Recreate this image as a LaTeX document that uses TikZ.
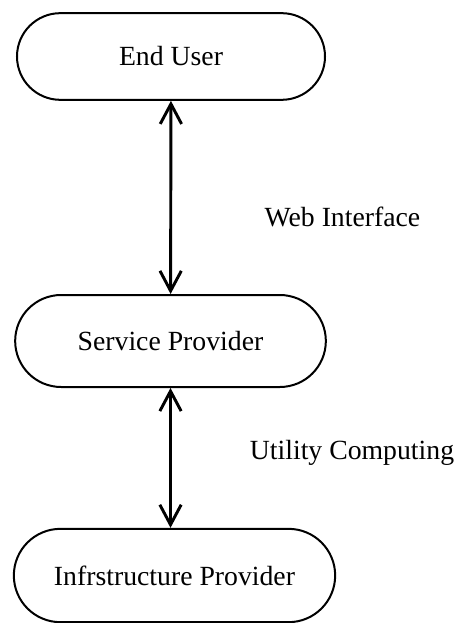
\documentclass[tikz,border=0pt]{standalone}
\usepackage{fontspec}
\setmainfont{Liberation Serif}
\usetikzlibrary{shapes.misc,arrows.meta,positioning}

\begin{document}
\begin{tikzpicture}[x=0.75pt,y=-0.75pt,
    actor/.style={rounded rectangle,draw,line width=1.5pt,font=\fontsize{20.8}{25}\selectfont,inner sep=0pt},
    link/.style={{Straight Barb[length=15pt,width=16pt,line width=2.2pt]}-{Straight Barb[length=15pt,width=16pt,line width=2.2pt]},line width=2.2pt},
    note/.style={font=\fontsize{20.8}{25}\selectfont}]
    \useasboundingbox (0,0) rectangle (457,623);
    \node[actor, minimum width=231pt, minimum height=65pt] (user) at (171,56.5) {End User};
    \node[actor, minimum width=233pt, minimum height=69pt] (service) at (170.5,341) {Service Provider};
    \node[actor, minimum width=241pt, minimum height=70pt] (infra) at (174.5,575.5) {Infrstructure Provider};
    \draw[link] (user) -- (service);
    \draw[link] (service.south) -- (service.south |- infra.north);
    \node[note] (web) at (342.5,217) {Web Interface};
    \node[note] (utility) at (352,453) {Utility Computing};
\end{tikzpicture}
\end{document}
